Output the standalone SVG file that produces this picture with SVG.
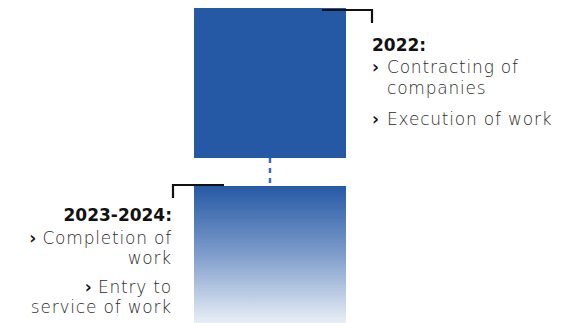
<svg xmlns="http://www.w3.org/2000/svg" width="570" height="323" viewBox="0 0 570 323">
<defs>
<linearGradient id="fade" x1="0" y1="0" x2="0" y2="1">
<stop offset="0" stop-color="#2659A5"/>
<stop offset="0.5" stop-color="#7E9DCB"/>
<stop offset="1" stop-color="#E9EEF6"/>
</linearGradient>
<style>
.t{font-family:"DejaVu Sans","Liberation Sans",sans-serif;font-size:17px;font-weight:200;letter-spacing:0.8px;fill:#2b2b2b}
.h{font-family:"DejaVu Sans","Liberation Sans",sans-serif;font-size:17px;font-weight:700;fill:#111}
.b{font-weight:700;fill:#111;letter-spacing:0}
.br{fill:none;stroke:#111;stroke-width:2.2}
</style>
</defs>
<g id="node-2022">
<rect x="194" y="8" width="152" height="150" fill="#2659A5"/>
<path class="br" d="M322 10H372V23"/>
<text class="h" x="372" y="51">2022:</text>
<text class="t" x="372" y="73"><tspan class="b">›</tspan><tspan x="387">Contracting of</tspan></text>
<text class="t" x="387" y="94">companies</text>
<text class="t" x="372" y="125"><tspan class="b">›</tspan><tspan x="387">Execution of work</tspan></text>
</g>
<g id="node-2023">
<rect x="194" y="186" width="152" height="137" fill="url(#fade)"/>
<path class="br" d="M224 185H173V198"/>
<g text-anchor="end">
<text class="h" x="172" y="221">2023-2024:</text>
<text class="t" x="172" y="244"><tspan class="b">›</tspan> Completion of</text>
<text class="t" x="172" y="264">work</text>
<text class="t" x="172" y="293"><tspan class="b">›</tspan> Entry to</text>
<text class="t" x="172" y="313">service of work</text>
</g>
</g>
<g id="connectors">
<path d="M270 158V186" stroke="#3A6DBF" stroke-width="2.5" stroke-dasharray="5 5"/>
</g>
</svg>
